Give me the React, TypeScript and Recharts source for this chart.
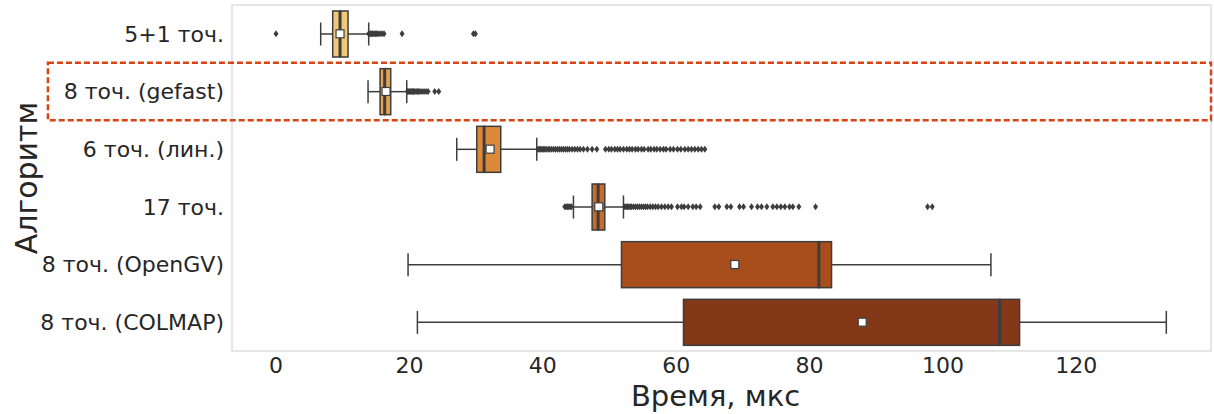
import React from "react";
import { Bar, ComposedChart, ReferenceArea, Scatter, XAxis, YAxis } from "recharts";

const algorithms = ["5+1 точ.", "8 точ. (gefast)", "6 точ. (лин.)", "17 точ.", "8 точ. (OpenGV)", "8 точ. (COLMAP)"];
const whiskerLow = [6.7, 13.8, 27.1, 44.6, 19.8, 21.2];
const q1 = [8.5, 15.6, 30.1, 47.4, 51.8, 61.1];
const median = [9.6, 16.3, 31.2, 48.3, 81.4, 108.5];
const q3 = [10.8, 17.2, 33.7, 49.3, 83.3, 111.5];
const whiskerHigh = [13.9, 19.6, 39.1, 52.1, 107.2, 133.5];
const means = [9.6, 16.5, 32.1, 48.4, 68.8, 87.9];
const boxColors = ["#f1c877", "#e8a24e", "#dc8a3a", "#c96b29", "#a84d1c", "#833917"];

const outliers51 = [0.0, 13.9, 14.1, 14.2, 14.4, 14.5, 14.7, 14.9, 15.1, 15.3, 15.6, 15.9, 16.2, 18.9, 29.6, 29.9];
const outliersGefast = [19.7, 19.8, 20.0, 20.1, 20.3, 20.5, 20.6, 20.8, 21.0, 21.2, 21.4, 21.6, 21.9, 22.2, 22.5, 22.8, 23.8, 24.4];
const outliers6 = [
  39.3, 39.5, 39.7, 39.9, 40.1, 40.3, 40.5, 40.8, 41.0, 41.3, 41.6, 41.9, 42.2, 42.5, 42.8, 43.1, 43.4, 43.7, 44.0, 44.4,
  44.8, 45.2, 45.6, 46.1, 46.7, 47.4, 48.1, 49.4, 49.9, 50.3, 50.8, 51.2, 51.6, 52.1, 52.6, 53.0, 53.4, 53.9, 54.3, 54.8,
  55.2, 55.8, 56.2, 56.7, 57.1, 57.6, 58.1, 58.5, 59.1, 59.6, 60.2, 60.7, 61.3, 61.8, 62.3, 62.8, 63.3, 63.8, 64.3,
];
const outliers17 = [
  43.3, 43.5, 43.7, 43.9, 44.1, 44.3, 52.3, 52.5, 52.7, 52.9, 53.1, 53.3, 53.6, 53.9, 54.2, 54.5, 54.8, 55.1, 55.4, 55.7,
  56.1, 56.5, 56.9, 57.3, 57.8, 58.3, 58.8, 59.3, 60.2, 60.8, 61.2, 61.8, 62.5, 63.0, 63.6, 65.8, 66.4, 67.6, 68.2, 69.5,
  70.1, 71.3, 72.2, 72.8, 73.6, 74.5, 75.1, 75.7, 76.3, 77.0, 77.5, 78.4, 80.9, 97.7, 98.4,
];
const outliersOpenGV: number[] = [];
const outliersColmap: number[] = [];
const outlierLists = [outliers51, outliersGefast, outliers6, outliers17, outliersOpenGV, outliersColmap];

const xTicks = [0, 20, 40, 60, 80, 100, 120];
const xDomain = [-6.6, 140.2];
const highlighted = "8 точ. (gefast)";

const rows = algorithms.map((name, i) => ({
  name,
  base: whiskerLow[i],
  wl: q1[i] - whiskerLow[i],
  bl: median[i] - q1[i],
  br: q3[i] - median[i],
  wr: whiskerHigh[i] - q3[i],
}));
const meanPoints = algorithms.map((name, i) => ({ name, v: means[i] }));
const outlierPoints = algorithms.flatMap((name, i) => outlierLists[i].map((v) => ({ name, v })));

const ink = "#3d3d3d";
const textColor = "#262626";
const font = "DejaVu Sans, sans-serif";

const Empty = () => <g />;

const LeftWhisker = (p: any) => {
  const cy = p.y + p.height / 2;
  return (
    <g>
      <line x1={p.x} x2={p.x + p.width} y1={cy} y2={cy} stroke={ink} strokeWidth={1.5} />
      <line x1={p.x} x2={p.x} y1={cy - p.height / 4} y2={cy + p.height / 4} stroke={ink} strokeWidth={1.5} />
    </g>
  );
};

const RightWhisker = (p: any) => {
  const cy = p.y + p.height / 2;
  const xe = p.x + p.width;
  return (
    <g>
      <line x1={p.x} x2={xe} y1={cy} y2={cy} stroke={ink} strokeWidth={1.5} />
      <line x1={xe} x2={xe} y1={cy - p.height / 4} y2={cy + p.height / 4} stroke={ink} strokeWidth={1.5} />
    </g>
  );
};

const BoxLeft = (p: any) => (
  <rect x={p.x} y={p.y} width={p.width} height={p.height} fill={boxColors[p.index]} stroke={ink} strokeWidth={1.5} />
);

const BoxRight = (p: any) => (
  <g>
    <rect x={p.x} y={p.y} width={p.width} height={p.height} fill={boxColors[p.index]} stroke={ink} strokeWidth={1.5} />
    <line x1={p.x} x2={p.x} y1={p.y} y2={p.y + p.height} stroke={ink} strokeWidth={3} />
  </g>
);

const MeanMark = (p: any) => (
  <rect x={p.cx - 4} y={p.cy - 4} width={8} height={8} fill="#ffffff" stroke={ink} strokeWidth={1.2} />
);

const OutlierMark = (p: any) => (
  <path d={`M${p.cx},${p.cy - 3.5} L${p.cx + 2.5},${p.cy} L${p.cx},${p.cy + 3.5} L${p.cx - 2.5},${p.cy} Z`} fill={ink} />
);

const YLabel = (props: any) => {
  const vb = props.viewBox;
  const cx = vb.x + 26;
  const cy = vb.y + vb.height / 2;
  return (
    <text x={cx} y={cy} transform={`rotate(-90 ${cx} ${cy})`} textAnchor="middle" dominantBaseline="central" fontSize={30} fill={textColor} fontFamily={font}>
      Алгоритм
    </text>
  );
};

const XLabel = (props: any) => {
  const vb = props.viewBox;
  return (
    <text x={vb.x + vb.width / 2 - 6} y={vb.y + vb.height - 8} textAnchor="middle" fontSize={29} fill={textColor} fontFamily={font}>
      Время, мкс
    </text>
  );
};

export default function App() {
  return (
    <div style={{ width: 1214, height: 414, background: "#ffffff" }}>
      <style>{"body{margin:0}"}</style>
      <ComposedChart
        width={1214}
        height={414}
        data={rows}
        layout="vertical"
        margin={{ top: 5, right: 3, left: 0, bottom: 0 }}
        style={{ fontFamily: font }}
      >
        <ReferenceArea x1={xDomain[0]} x2={xDomain[1]} fill="none" stroke="#dedede" strokeWidth={1.5} ifOverflow="visible" />
        <XAxis
          type="number"
          domain={xDomain}
          allowDataOverflow
          ticks={xTicks}
          tickLine={false}
          axisLine={false}
          height={63}
          tick={{ fontSize: 22, fill: textColor, fontFamily: font, dy: -2 }}
          label={<XLabel />}
        />
        <YAxis
          type="category"
          dataKey="name"
          allowDuplicatedCategory={false}
          width={232}
          tickLine={false}
          axisLine={false}
          tick={{ fontSize: 22, fill: textColor, fontFamily: font }}
          label={<YLabel />}
        />
        <Bar dataKey="base" stackId="b" barSize={46} shape={<Empty />} isAnimationActive={false} />
        <Bar dataKey="wl" stackId="b" barSize={46} shape={<LeftWhisker />} isAnimationActive={false} />
        <Bar dataKey="bl" stackId="b" barSize={46} shape={<BoxLeft />} isAnimationActive={false} />
        <Bar dataKey="br" stackId="b" barSize={46} shape={<BoxRight />} isAnimationActive={false} />
        <Bar dataKey="wr" stackId="b" barSize={46} shape={<RightWhisker />} isAnimationActive={false} />
        <Scatter data={outlierPoints} dataKey="v" shape={<OutlierMark />} isAnimationActive={false} />
        <Scatter data={meanPoints} dataKey="v" shape={<MeanMark />} isAnimationActive={false} />
        <ReferenceArea
          x1={-34.2}
          x2={xDomain[1]}
          y1={highlighted}
          y2={highlighted}
          fill="none"
          stroke="#d84315"
          strokeWidth={2.5}
          strokeDasharray="6 3"
          ifOverflow="visible"
        />
      </ComposedChart>
    </div>
  );
}
